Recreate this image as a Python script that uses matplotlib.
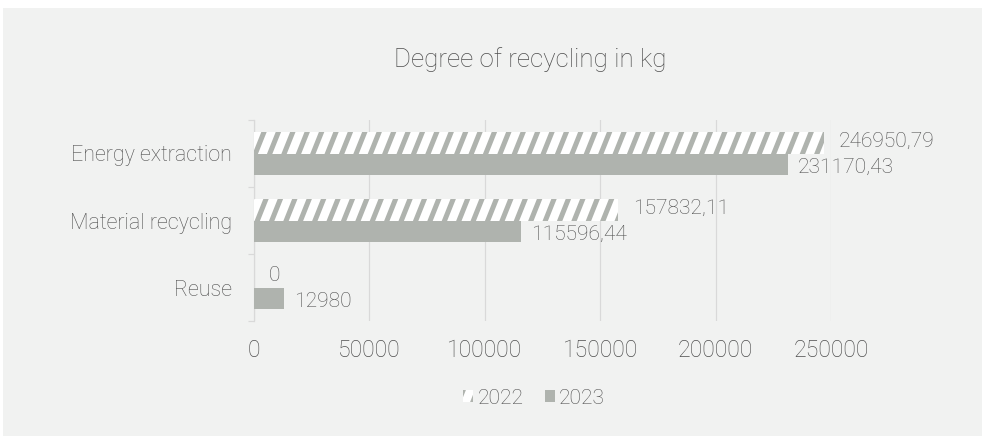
import matplotlib
matplotlib.use("Agg")
import matplotlib.pyplot as plt
import matplotlib.hatch as mhatch
from matplotlib.path import Path
from matplotlib.patches import Rectangle, Patch
import numpy as np

categories = ["Energy extraction", "Material recycling", "Reuse"]
values_2022 = [246950.79, 157832.11, 0]
values_2023 = [231170.43, 115596.44, 12980]
series_names = ["2022", "2023"]
x_ticks = [0, 50000, 100000, 150000, 200000, 250000]
title = "Degree of recycling in kg"

W, H, DPI = 982, 436, 72
TEXT = "#4f4f4f"
GRID = "#d9d9d9"
BAR = "#afb3ae"
PANEL = "#f1f2f1"


class SteepUpwardHatch(mhatch.HatchPatternBase):
    """Upward diagonal stripes, steeper than the stock '/' hatch."""
    lines_per_unit = 5
    shift = 0.4  # horizontal run per unit of height

    def __init__(self, hatch, density):
        if "/" in hatch:
            step = 1.0 / self.lines_per_unit
            start = -np.ceil(self.shift / step) * step
            self.x0 = np.arange(start, 1.0 + 1e-9, step)
            self.num_vertices = 2 * len(self.x0)
        else:
            self.x0 = np.empty(0)
            self.num_vertices = 0

    def set_vertices_and_codes(self, vertices, codes):
        vertices[0::2, 0] = self.x0
        vertices[0::2, 1] = 0.0
        vertices[1::2, 0] = self.x0 + self.shift
        vertices[1::2, 1] = 1.0
        codes[0::2] = Path.MOVETO
        codes[1::2] = Path.LINETO


mhatch._hatch_types[:] = [SteepUpwardHatch if t is mhatch.NorthEastHatch else t
                          for t in mhatch._hatch_types]

plt.rcParams["font.family"] = ["Roboto", "DejaVu Sans"]
plt.rcParams["font.weight"] = "light"
plt.rcParams["hatch.linewidth"] = 5
plt.rcParams["hatch.color"] = BAR

fig = plt.figure(figsize=(W / DPI, H / DPI), dpi=DPI, facecolor="white")

# light grey chart panel
fig.patches.append(Rectangle((3 / W, 0), 1 - 3 / W, 1 - 8 / H,
                             transform=fig.transFigure, facecolor=PANEL,
                             edgecolor="none", zorder=-10))


def fx(px):
    return px / W


def fy(py):
    return 1 - py / H


ax = fig.add_axes([fx(254), fy(321), fx(831) - fx(254), fy(120) - fy(321)])
ax.set_facecolor("none")

y = np.arange(len(categories))
bh = 0.32
ax.barh(y - bh / 2, values_2022, height=bh, facecolor="white",
        edgecolor=BAR, linewidth=0, hatch="/", zorder=3)
ax.barh(y + bh / 2, values_2023, height=bh, color=BAR, linewidth=0, zorder=3)


def fmt(v):
    return f"{v:.2f}".replace(".", ",") if v % 1 else f"{int(v)}"


for yi, v in zip(y, values_2022):
    ax.annotate(fmt(v), (v, yi - bh / 2), xytext=(15, 1), textcoords="offset points",
                ha="left", va="center", fontsize=21, color=TEXT)
for yi, v in zip(y, values_2023):
    ax.annotate(fmt(v), (v, yi + bh / 2), xytext=(10, -3), textcoords="offset points",
                ha="left", va="center", fontsize=21, color=TEXT)

ax.set_xlim(0, 250000)
ax.set_ylim(len(categories) - 0.5, -0.5)
ax.set_xticks(x_ticks)
ax.set_xticklabels([str(t) for t in x_ticks])
ax.grid(axis="x", color=GRID, linewidth=1.2, zorder=0)
ax.set_yticks(y)
ax.set_yticklabels(categories)
ax.set_yticks(np.arange(-0.5, len(categories)), minor=True)
ax.tick_params(axis="y", which="major", length=0, pad=22, labelsize=21.5, labelcolor=TEXT)
ax.tick_params(axis="y", which="minor", length=6, color=GRID, width=1.2)
ax.tick_params(axis="x", length=0, pad=18, labelsize=23, labelcolor=TEXT)
for s in ["top", "right", "bottom"]:
    ax.spines[s].set_visible(False)
ax.spines["left"].set_color(GRID)
ax.spines["left"].set_linewidth(1.2)

fig.text(fx(530), fy(67), title, ha="center", va="baseline", fontsize=26, color=TEXT)

handles = [Patch(facecolor="white", edgecolor=BAR, hatch="/", linewidth=0),
           Patch(facecolor=BAR, linewidth=0)]
fig.legend(handles, series_names, loc="center", bbox_to_anchor=(fx(534), fy(398)),
           ncol=2, frameon=False, fontsize=21, labelcolor=TEXT,
           handlelength=0.48, handleheight=0.48, handletextpad=0.2, columnspacing=1.0)

fig.savefig("out.png", dpi=DPI, facecolor="white")
